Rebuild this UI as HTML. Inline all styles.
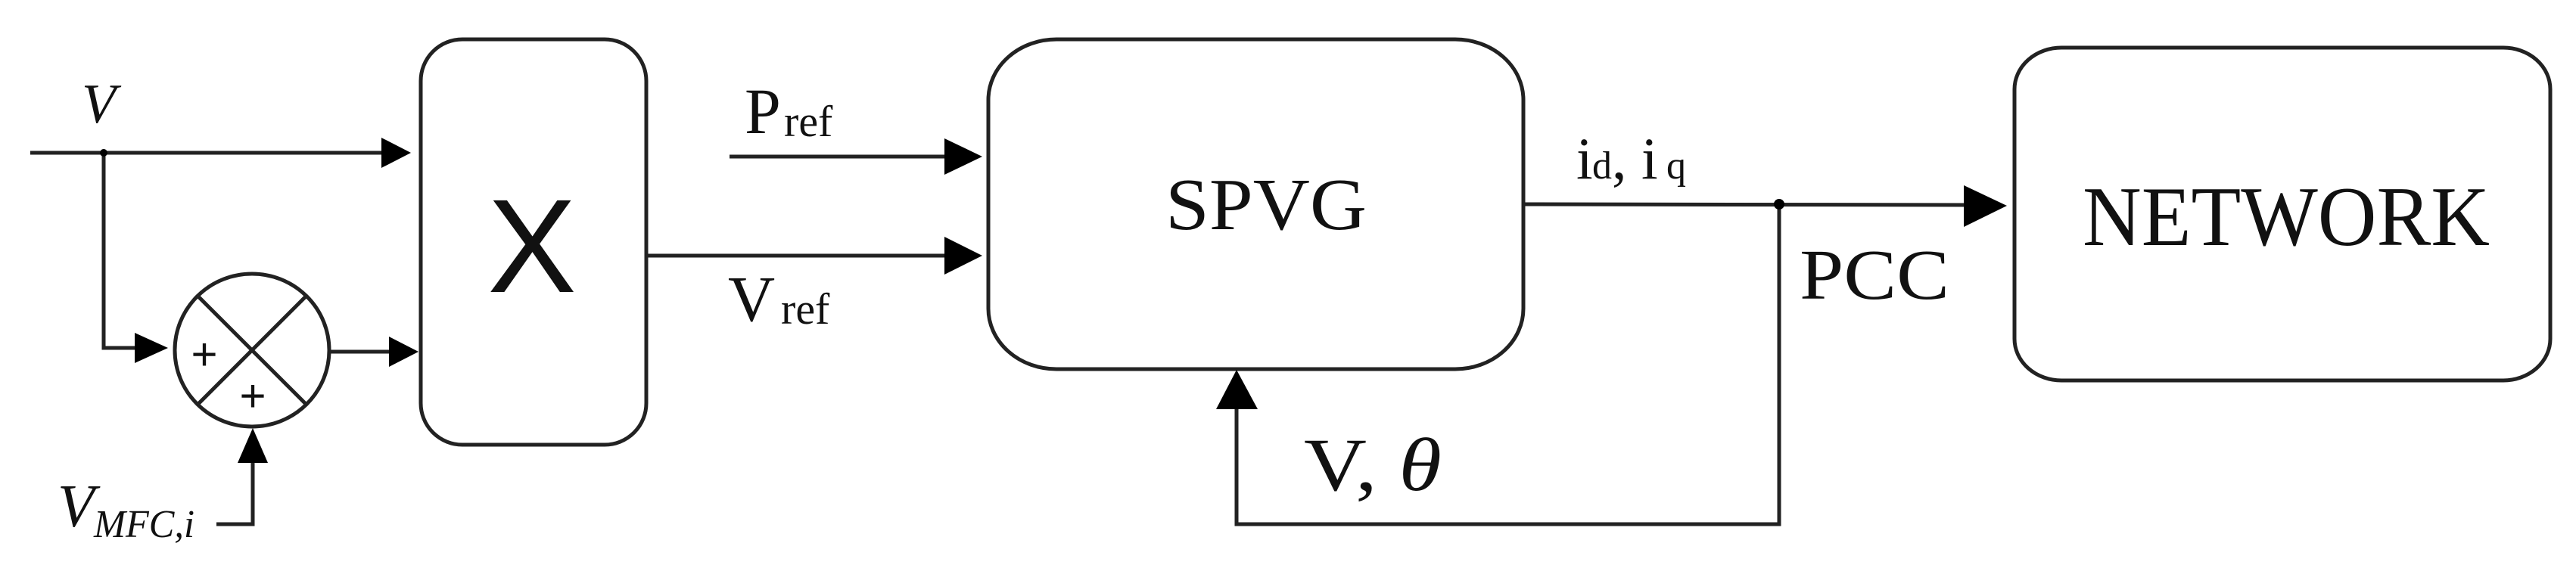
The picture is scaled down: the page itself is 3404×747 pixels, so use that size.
<!DOCTYPE html>
<html><head><meta charset="utf-8"><style>html,body{margin:0;padding:0;background:#fff}svg{display:block}</style></head>
<body>
<svg width="3404" height="747" viewBox="0 0 3404 747" xmlns="http://www.w3.org/2000/svg" font-family="'Liberation Serif', serif" fill="#111">
<g stroke="#222" stroke-width="5" fill="none">
  <rect x="556" y="52" width="298" height="536" rx="55" ry="55"/>
  <rect x="1306" y="52" width="707" height="436" rx="90" ry="80"/>
  <rect x="2662" y="63" width="708" height="440" rx="62" ry="55"/>
  <ellipse cx="333" cy="463" rx="102" ry="101"/>
  <line x1="261" y1="391" x2="405" y2="535"/>
  <line x1="405" y1="391" x2="261" y2="535"/>
  <line x1="40" y1="202" x2="510" y2="202"/>
  <polyline points="137,202 137,460 185,460"/>
  <line x1="435" y1="465" x2="520" y2="465"/>
  <polyline points="286,693 334,693 334,605"/>
  <line x1="964" y1="207" x2="1255" y2="207"/>
  <line x1="854" y1="338" x2="1255" y2="338"/>
  <line x1="2013" y1="270" x2="2600" y2="271"/>
  <polyline points="2351,270 2351,693 1634,693 1634,535"/>
</g>
<g fill="#000">
  <circle cx="137" cy="202" r="5"/>
  <circle cx="2351" cy="270" r="7"/>
  <polygon points="504,182 543,202 504,222"/>
  <polygon points="178,440 222,460 178,480"/>
  <polygon points="514,445 553,465 514,485"/>
  <polygon points="314,612 354,612 334,566"/>
  <polygon points="1248,183 1298,207 1248,231"/>
  <polygon points="1248,313 1298,338 1248,363"/>
  <polygon points="2595,245 2652,272 2595,300"/>
  <polygon points="1607,541 1662,541 1634,489"/>
</g>
<text x="270" y="489" font-size="60" text-anchor="middle" font-family="'Liberation Sans', sans-serif">+</text>
<text x="334" y="544" font-size="60" text-anchor="middle" font-family="'Liberation Sans', sans-serif">+</text>
<text x="108" y="162" font-size="74" font-style="italic">V</text>
<text x="76" y="696" font-size="80" font-style="italic">V</text>
<text x="124" y="710" font-size="52" font-style="italic" textLength="133" lengthAdjust="spacingAndGlyphs">MFC,i</text>
<text x="703" y="386" font-size="176" text-anchor="middle" font-family="'Liberation Sans', sans-serif">X</text>
<text x="984" y="176" font-size="86">P</text>
<text x="1036" y="180" font-size="58">ref</text>
<text x="962" y="424" font-size="86">V</text>
<text x="1032" y="428" font-size="58">ref</text>
<text x="1540" y="303" font-size="98" textLength="266" lengthAdjust="spacingAndGlyphs">SPVG</text>
<text x="2083" y="236" font-size="78">i</text>
<text x="2104" y="236" font-size="52">d</text>
<text x="2130" y="236" font-size="78">, i</text>
<text x="2202" y="236" font-size="52">q</text>
<text x="2378" y="395" font-size="94" textLength="198" lengthAdjust="spacingAndGlyphs">PCC</text>
<text x="2752" y="324" font-size="112" textLength="538" lengthAdjust="spacingAndGlyphs">NETWORK</text>
<text x="1723" y="648" font-size="100" textLength="182" lengthAdjust="spacingAndGlyphs">V, <tspan font-style="italic">θ</tspan></text>
</svg>
</body></html>
